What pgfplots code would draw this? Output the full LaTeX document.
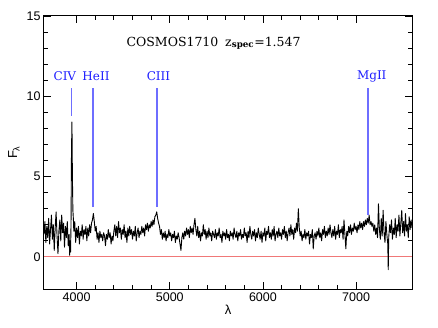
\documentclass[border=0pt]{standalone}
\usepackage{fontspec}
\setmainfont{DejaVu Serif}
\newfontfamily\sansf{Liberation Sans}
\usepackage{pgfplots}
\pgfplotsset{compat=1.18}
\usetikzlibrary{calc}
\definecolor{linblue}{RGB}{110,110,255}
\definecolor{txtblue}{RGB}{30,30,255}
\definecolor{zerored}{RGB}{240,120,120}

\begin{document}
\begin{tikzpicture}
\begin{axis}[
  scale only axis, width=368pt, height=273pt,
  xmin=3650, xmax=7600, ymin=-2, ymax=15,
  xtick={4000,5000,6000,7000}, ytick={0,5,10,15},
  minor x tick num=4, minor y tick num=4,
  tick align=inside, xtick pos=both, ytick pos=both,
  xticklabel pos=lower, yticklabel pos=left,
  major tick length=7pt, minor tick length=4pt,
  tick style={black, line width=0.8pt},
  axis line style={line width=1pt},
  /pgf/number format/set thousands separator={},
  /pgf/number format/assume math mode=true,
  ticklabel style={font=\sansf\fontsize{12.5}{14}\selectfont},
  xlabel={\sansf\fontsize{13}{14}\selectfont λ},
  ylabel={\sansf\fontsize{13}{14}\selectfont F\textsubscript{λ}},
  xlabel style={yshift=3pt},
]
\path (rel axis cs:0,0) coordinate (sw);
\path (rel axis cs:1,1) coordinate (ne);

\addplot[zerored, line width=1.2pt] coordinates {(3650,0) (7600,0)};

\addplot[black, line width=0.9pt, line join=round] coordinates {
(3650,1.4) (3660,2.2) (3670,0.9) (3680,1.9) (3690,1.2) (3700,2.4) (3710,0.8) (3720,1.7) (3730,2.6) (3740,1.1)
(3750,2.0) (3760,0.4) (3770,1.8) (3780,2.8) (3790,1.3) (3800,0.2) (3810,1.6) (3820,2.3) (3830,1.0) (3840,2.6)
(3850,1.5) (3860,2.1) (3870,0.6) (3880,1.9) (3890,1.2) (3900,2.2) (3910,0.7) (3920,1.4) (3925,0.1) (3930,1.0)
(3935,0.3) (3940,2.0) (3945,6.5) (3950,8.4) (3955,5.0) (3960,2.9) (3965,2.4) (3970,1.6) (3980,2.2) (3990,0.9)
(4000,1.8) (4010,1.2) (4020,1.9) (4030,0.8) (4040,1.6) (4050,1.3) (4060,2.0) (4070,1.1) (4080,1.7) (4090,1.4)
(4100,1.9) (4110,1.0) (4120,1.8) (4130,1.3) (4140,2.0) (4150,1.5) (4160,2.1) (4170,2.3) (4180,2.7) (4190,2.2)
(4200,1.6) (4210,1.9) (4220,1.1) (4230,1.5) (4240,0.9) (4250,1.6) (4260,1.2) (4270,1.4) (4280,1.0) (4290,1.5)
(4300,1.3) (4310,0.7) (4320,1.4) (4330,1.1) (4340,1.7) (4350,1.2) (4360,1.5) (4370,0.8) (4380,1.3) (4390,1.0)
(4400,1.6) (4410,2.0) (4420,1.3) (4430,1.9) (4440,1.2) (4450,2.2) (4460,1.5) (4470,1.8) (4480,1.1) (4490,1.7)
(4500,1.4) (4510,2.0) (4520,1.2) (4530,1.6) (4540,0.9) (4550,1.8) (4560,1.3) (4570,1.9) (4580,1.4) (4590,1.7)
(4600,1.1) (4610,1.6) (4620,1.3) (4630,1.9) (4640,1.0) (4650,1.5) (4660,1.8) (4670,1.2) (4680,1.6) (4690,1.4)
(4700,1.9) (4710,1.5) (4720,1.8) (4730,1.3) (4740,2.0) (4750,1.7) (4760,2.1) (4770,1.6) (4780,2.0) (4790,1.8)
(4800,2.2) (4810,1.9) (4820,2.3) (4830,2.0) (4840,2.5) (4850,2.6) (4860,2.8) (4870,2.4) (4880,2.1) (4890,1.9)
(4900,1.4) (4910,1.7) (4920,1.1) (4930,1.5) (4940,1.2) (4950,1.6) (4960,1.0) (4970,1.4) (4980,1.2) (4990,1.7)
(5000,1.3) (5010,1.5) (5020,1.0) (5030,1.4) (5040,1.2) (5050,1.6) (5060,0.9) (5070,1.3) (5080,1.1) (5090,1.5)
(5100,1.2) (5110,0.8) (5120,0.4) (5130,1.2) (5140,1.5) (5150,1.1) (5160,1.6) (5170,1.3) (5180,1.8) (5190,1.4)
(5200,1.7) (5210,1.2) (5220,1.9) (5230,1.5) (5240,1.8) (5250,1.4) (5260,2.0) (5270,2.4) (5280,1.7) (5290,1.3)
(5300,1.9) (5310,1.2) (5320,1.6) (5330,1.0) (5340,1.5) (5350,1.3) (5360,2.0) (5370,1.4) (5380,1.7) (5390,1.1)
(5400,1.6) (5410,1.2) (5420,1.8) (5430,1.3) (5440,1.5) (5450,1.0) (5460,1.6) (5470,1.4) (5480,1.2) (5490,1.7)
(5500,1.1) (5510,1.5) (5520,1.3) (5530,1.8) (5540,1.2) (5550,1.4) (5560,0.9) (5570,1.6) (5580,1.3) (5590,1.5)
(5600,1.1) (5610,1.7) (5620,1.2) (5630,1.4) (5640,1.0) (5650,1.6) (5660,1.3) (5670,1.5) (5680,1.1) (5690,1.8)
(5700,1.4) (5710,1.2) (5720,1.6) (5730,1.0) (5740,1.5) (5750,1.3) (5760,1.7) (5770,1.1) (5780,1.4) (5790,1.2)
(5800,1.8) (5810,1.3) (5820,1.5) (5830,0.9) (5840,1.6) (5850,1.2) (5860,1.9) (5870,1.4) (5880,1.1) (5890,1.6)
(5900,1.3) (5910,1.7) (5920,1.0) (5930,1.5) (5940,1.2) (5950,1.8) (5960,1.4) (5970,1.1) (5980,1.6) (5990,0.9)
(6000,1.5) (6010,1.3) (6020,1.8) (6030,1.0) (6040,1.6) (6050,1.4) (6060,1.9) (6070,1.2) (6080,1.5) (6090,1.1)
(6100,1.7) (6110,1.3) (6120,1.9) (6130,1.0) (6140,1.4) (6150,1.6) (6160,1.2) (6170,1.8) (6180,1.3) (6190,1.5)
(6200,1.1) (6210,1.7) (6220,1.4) (6230,1.9) (6240,1.2) (6250,1.6) (6260,1.0) (6270,1.5) (6280,1.8) (6290,1.3)
(6300,2.0) (6310,1.4) (6320,1.7) (6330,1.1) (6340,1.8) (6350,1.5) (6360,2.1) (6370,1.6) (6380,3.0) (6390,1.8)
(6400,1.3) (6410,1.6) (6420,1.0) (6430,1.4) (6440,1.2) (6450,1.7) (6460,1.1) (6470,1.5) (6480,1.3) (6490,1.6)
(6500,0.8) (6510,1.4) (6520,1.2) (6530,1.7) (6540,0.5) (6550,1.3) (6560,1.5) (6570,1.1) (6580,1.6) (6590,1.3)
(6600,1.8) (6610,1.2) (6620,1.5) (6630,1.0) (6640,1.7) (6650,1.4) (6660,1.9) (6670,1.2) (6680,1.6) (6690,1.3)
(6700,1.8) (6710,1.4) (6720,2.0) (6730,1.5) (6740,1.2) (6750,1.7) (6760,1.3) (6770,1.9) (6780,1.1) (6790,1.6)
(6800,1.4) (6810,2.0) (6820,1.2) (6830,1.7) (6840,1.5) (6850,1.9) (6860,1.1) (6870,2.3) (6880,1.4) (6890,0.5)
(6900,1.6) (6910,1.3) (6920,1.9) (6930,1.5) (6940,2.0) (6950,1.4) (6960,1.8) (6970,1.6) (6980,2.1) (6990,1.7)
(7000,1.9) (7010,1.5) (7020,2.0) (7030,1.7) (7040,2.2) (7050,1.8) (7060,2.1) (7070,1.7) (7080,2.2) (7090,1.9)
(7100,2.3) (7110,2.0) (7120,2.4) (7130,2.1) (7140,2.6) (7150,2.0) (7160,2.2) (7170,1.9) (7180,2.1) (7190,1.6)
(7200,2.0) (7210,1.4) (7220,1.8) (7230,1.2) (7240,3.3) (7250,1.7) (7260,1.1) (7270,2.4) (7280,1.3) (7290,2.9)
(7300,1.5) (7310,0.9) (7320,2.2) (7330,1.4) (7340,0.8) (7345,-0.8) (7350,1.2) (7360,2.0) (7370,1.5) (7380,2.3)
(7390,1.1) (7400,1.8) (7410,1.4) (7420,2.4) (7430,1.2) (7440,2.0) (7450,1.6) (7460,2.6) (7470,1.3) (7480,2.1)
(7490,2.9) (7500,1.5) (7510,2.2) (7520,1.3) (7530,2.7) (7540,1.6) (7550,2.0) (7560,1.2) (7570,2.5) (7580,1.7)
(7590,2.3) (7600,1.8)
};

% line markers
\addplot[linblue, line width=1.4pt] coordinates {(3943,8.8) (3943,10.5)};
\addplot[linblue, line width=1.2pt] coordinates {(4177,3.1) (4177,10.5)};
\addplot[linblue, line width=1.2pt] coordinates {(4862,3.1) (4862,10.5)};
\addplot[linblue, line width=1.2pt] coordinates {(7127,2.6) (7127,10.5)};

\node[txtblue, font=\fontsize{12}{14}\selectfont] at (axis cs:3874,11.25) {CIV};
\node[txtblue, font=\fontsize{12}{14}\selectfont] at (axis cs:4208,11.25) {HeII};
\node[txtblue, font=\fontsize{12}{14}\selectfont] at (axis cs:4879,11.25) {CIII};
\node[txtblue, font=\fontsize{12}{14}\selectfont] at (axis cs:7168,11.25) {MgII};

\node[font=\fontsize{12.5}{14}\selectfont] at (axis cs:5470,13.3)
  {COSMOS1710\hspace{0.55em}z\textsubscript{\bfseries spec}=1.547};
\end{axis}
\pgfresetboundingbox
\path[use as bounding box] ($(sw)+(-44pt,-38pt)$) rectangle ($(ne)+(26pt,16pt)$);
\end{tikzpicture}
\end{document}
